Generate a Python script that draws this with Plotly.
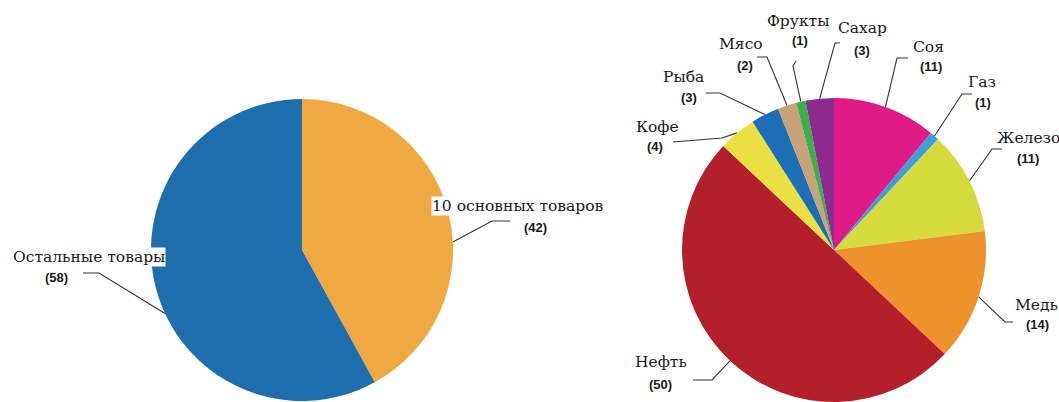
import math
import plotly.graph_objects as go

# ---------------- data ----------------
left_labels = ["10 основных товаров", "Остальные товары"]
left_values = [42, 58]
left_colors = ["#F0A942", "#1E6EAE"]

right_labels = ["Соя", "Газ", "Железо", "Медь", "Нефть", "Кофе", "Рыба", "Мясо", "Фрукты", "Сахар"]
right_values = [11, 1, 11, 14, 50, 4, 3, 2, 1, 3]
right_colors = ["#E01A86", "#3C9FD6", "#D5DB3D", "#EE922E", "#B3202B",
                "#EAE043", "#1D6FB5", "#C9A27A", "#3BB04A", "#8C2A8F"]

# ---------------- layout (pixels, origin top-left) ----------------
W, H = 1059, 402
LEFT_C, LEFT_R = (302, 250), 151
RIGHT_C, RIGHT_R = (834, 250), 152

# per label: anchor fraction along slice, elbow, end of leader, name centre, value centre
left_layout = {
    "10 основных товаров": dict(frac=0.575, elbow=(492, 221), end=(510, 221), name=(518, 206), val=(535, 227)),
    "Остальные товары":   dict(frac=0.45, elbow=(99, 273), end=(83, 273), name=(89, 257), val=(56, 277)),
}
right_layout = {
    "Соя":    dict(frac=0.5, elbow=(897, 58), end=(908, 58), name=(928, 47), val=(931, 66)),
    "Газ":    dict(frac=0.5, elbow=(962, 94), end=(972, 94), name=(982, 82), val=(983, 102)),
    "Железо": dict(frac=0.5, elbow=(992, 149), end=(1002, 149), name=(1028, 138), val=(1028, 158)),
    "Медь":   dict(frac=0.5, elbow=(1005, 322), end=(1013, 322), name=(1036, 305), val=(1037, 324)),
    "Нефть":  dict(frac=0.5, elbow=(712, 380), end=(693, 380), name=(661, 362), val=(660, 384)),
    "Кофе":   dict(frac=0.5, elbow=(722, 138), end=(673, 142), name=(657, 127), val=(655, 146)),
    "Рыба":   dict(frac=0.5, elbow=(720, 93), end=(706, 93), name=(683, 77), val=(689, 97)),
    "Мясо":   dict(frac=0.5, elbow=(767, 57), end=(757, 57), name=(741, 44), val=(745, 65)),
    "Фрукты": dict(frac=0.5, elbow=(793, 66), end=(796, 61), name=(798, 21), val=(800, 40)),
    "Сахар":  dict(frac=0.5, elbow=(835, 43), end=(840, 43), name=(862, 28), val=(862, 50)),
}

SERIF = "DejaVu Serif"
SANS = "Liberation Sans"
NAME_SIZE = 15.5
VAL_SIZE = 13


def pie_domain(c, r):
    cx, cy = c
    return dict(x=[(cx - r) / W, (cx + r) / W],
                y=[max(0.0, (H - cy - r) / H), min(1.0, (H - cy + r) / H)])


fig = go.Figure()


def add_labels(labels, values, layout_map, c, r, name_bg):
    total = float(sum(values))
    cum = 0.0
    cx, cy = c
    for lab, v in zip(labels, values):
        L = layout_map[lab]
        theta = math.radians(360.0 * (cum + L["frac"] * v) / total)
        sx = cx + r * math.sin(theta)
        sy = cy - r * math.cos(theta)
        cum += v
        fig.add_trace(go.Scatter(
            x=[sx, L["elbow"][0], L["end"][0]],
            y=[sy, L["elbow"][1], L["end"][1]],
            mode="lines", line=dict(color="#333333", width=1.1),
            hoverinfo="skip", showlegend=False, xaxis="x", yaxis="y"))
        fig.add_annotation(
            x=L["name"][0], y=L["name"][1], xref="x", yref="y",
            text=lab,
            showarrow=False, xanchor="center", yanchor="middle",
            font=dict(family=SERIF, size=NAME_SIZE, color="#1a1a1a"),
            bgcolor="white" if name_bg else "rgba(0,0,0,0)", borderpad=0)
        fig.add_annotation(
            x=L["val"][0], y=L["val"][1], xref="x", yref="y",
            text=f"<b>({v})</b>",
            showarrow=False, xanchor="center", yanchor="middle",
            font=dict(family=SANS, size=VAL_SIZE, color="#1a1a1a"))


add_labels(left_labels, left_values, left_layout, LEFT_C, LEFT_R, True)
add_labels(right_labels, right_values, right_layout, RIGHT_C, RIGHT_R, False)

fig.add_trace(go.Pie(
    labels=left_labels, values=left_values, sort=False, direction="clockwise", rotation=0,
    marker=dict(colors=left_colors, line=dict(width=0)), textinfo="none",
    domain=pie_domain(LEFT_C, LEFT_R), showlegend=False, hoverinfo="label+value"))

fig.add_trace(go.Pie(
    labels=right_labels, values=right_values, sort=False, direction="clockwise", rotation=0,
    marker=dict(colors=right_colors, line=dict(width=0)), textinfo="none",
    domain=pie_domain(RIGHT_C, RIGHT_R), showlegend=False, hoverinfo="label+value"))

fig.update_layout(
    width=W, height=H,
    margin=dict(l=0, r=0, t=0, b=0),
    paper_bgcolor="white", plot_bgcolor="white",
    font=dict(family=SERIF, size=NAME_SIZE, color="#1a1a1a"),
    xaxis=dict(range=[0, W], visible=False, domain=[0, 1], fixedrange=True),
    yaxis=dict(range=[H, 0], visible=False, domain=[0, 1], fixedrange=True),
    showlegend=False,
)

fig.write_html("out.html")
